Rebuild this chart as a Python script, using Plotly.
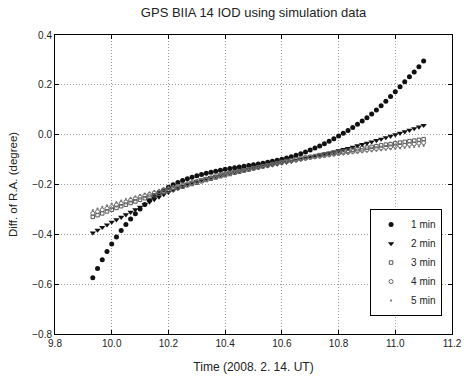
import plotly.graph_objects as go

# time samples: minutes after 09:00 UT (1-minute spacing), converted to hours
minutes = [56, 57, 58, 59, 60, 61, 62, 63, 64, 65, 66, 67, 68, 69, 70, 71, 72, 73, 74, 75,
           76, 77, 78, 79, 80, 81, 82, 83, 84, 85, 86, 87, 88, 89, 90, 91, 92, 93, 94, 95,
           96, 97, 98, 99, 100, 101, 102, 103, 104, 105, 106, 107, 108, 109, 110, 111, 112,
           113, 114, 115, 116, 117, 118, 119, 120, 121, 122, 123, 124, 125, 126]
time_h = [9 + m / 60 for m in minutes]

s1 = [-0.574, -0.537, -0.502, -0.469, -0.439, -0.411, -0.385, -0.361, -0.338, -0.317,
      -0.298, -0.280, -0.263, -0.248, -0.234, -0.222, -0.211, -0.201, -0.192, -0.184,
      -0.177, -0.171, -0.165, -0.160, -0.155, -0.151, -0.147, -0.143, -0.139, -0.136,
      -0.133, -0.130, -0.127, -0.124, -0.121, -0.118, -0.115, -0.111, -0.107, -0.103,
      -0.099, -0.094, -0.089, -0.083, -0.077, -0.070, -0.062, -0.054, -0.045, -0.036,
      -0.026, -0.016, -0.005, 0.006, 0.017, 0.029, 0.042, 0.055, 0.068, 0.083,
      0.099, 0.116, 0.134, 0.153, 0.172, 0.192, 0.212, 0.232, 0.252, 0.273, 0.296]

s2 = [-0.394, -0.383, -0.372, -0.362, -0.351, -0.341, -0.331, -0.321, -0.311, -0.301,
      -0.291, -0.280, -0.270, -0.260, -0.250, -0.2405, -0.2315, -0.223, -0.215, -0.2075,
      -0.2005, -0.1939, -0.1877, -0.1819, -0.1764, -0.1712, -0.1663, -0.1617, -0.1573, -0.1531,
      -0.1491, -0.1453, -0.1416, -0.1380, -0.1345, -0.1311, -0.1277, -0.1243, -0.1209, -0.1175,
      -0.1141, -0.1105, -0.1068, -0.1030, -0.0991, -0.0951, -0.0910, -0.0868, -0.0825, -0.0781,
      -0.0736, -0.0690, -0.0643, -0.0595, -0.0546, -0.0496, -0.0445, -0.0393, -0.0340, -0.0286,
      -0.0231, -0.0175, -0.0118, -0.0060, -0.0001, 0.0059, 0.0120, 0.0182, 0.0245, 0.0309, 0.0374]

s3 = [-0.330, -0.323, -0.316, -0.308, -0.301, -0.294, -0.287, -0.281, -0.274, -0.268,
      -0.261, -0.255, -0.249, -0.243, -0.237, -0.231, -0.225, -0.220, -0.214, -0.209,
      -0.203, -0.198, -0.193, -0.187, -0.182, -0.177, -0.172, -0.167, -0.163, -0.158,
      -0.153, -0.149, -0.144, -0.140, -0.135, -0.131, -0.127, -0.123, -0.118, -0.114,
      -0.110, -0.106, -0.103, -0.099, -0.096, -0.092, -0.089, -0.086, -0.082, -0.079,
      -0.076, -0.073, -0.070, -0.067, -0.064, -0.061, -0.058, -0.055, -0.052, -0.049,
      -0.046, -0.043, -0.040, -0.038, -0.035, -0.032, -0.029, -0.026, -0.024, -0.021, -0.018]

s4 = [-0.316, -0.309, -0.302, -0.296, -0.289, -0.282, -0.276, -0.270, -0.263, -0.257,
      -0.251, -0.245, -0.240, -0.234, -0.229, -0.223, -0.218, -0.213, -0.207, -0.202,
      -0.197, -0.192, -0.187, -0.183, -0.178, -0.173, -0.169, -0.164, -0.160, -0.155,
      -0.151, -0.147, -0.143, -0.139, -0.135, -0.131, -0.127, -0.123, -0.119, -0.115,
      -0.111, -0.108, -0.105, -0.101, -0.098, -0.095, -0.092, -0.089, -0.087, -0.084,
      -0.081, -0.078, -0.076, -0.073, -0.071, -0.068, -0.066, -0.063, -0.061, -0.058,
      -0.056, -0.054, -0.051, -0.049, -0.046, -0.044, -0.042, -0.039, -0.037, -0.034, -0.032]

s5 = [-0.303, -0.297, -0.290, -0.284, -0.277, -0.271, -0.265, -0.259, -0.254, -0.248,
      -0.242, -0.237, -0.232, -0.226, -0.221, -0.216, -0.211, -0.206, -0.202, -0.197,
      -0.192, -0.188, -0.183, -0.179, -0.174, -0.170, -0.166, -0.162, -0.158, -0.154,
      -0.150, -0.146, -0.142, -0.139, -0.135, -0.131, -0.127, -0.123, -0.120, -0.116,
      -0.112, -0.109, -0.106, -0.104, -0.101, -0.098, -0.096, -0.093, -0.091, -0.088,
      -0.086, -0.084, -0.081, -0.079, -0.077, -0.075, -0.073, -0.071, -0.069, -0.067,
      -0.065, -0.063, -0.061, -0.059, -0.057, -0.055, -0.053, -0.051, -0.049, -0.047, -0.045]

names = ["1 min", "2 min", "3 min", "4 min", "5 min"]
x_ticks = [9.8, 10.0, 10.2, 10.4, 10.6, 10.8, 11.0, 11.2]
y_ticks = [-0.8, -0.6, -0.4, -0.2, 0.0, 0.2, 0.4]

styles = [
    dict(symbol="circle", size=5, color="#111111"),
    dict(symbol="triangle-down", size=5.5, color="#111111"),
    dict(symbol="square-open", size=3.5, color="#555555", line=dict(width=1, color="#555555")),
    dict(symbol="circle-open", size=4, color="#666666", line=dict(width=1, color="#666666")),
    dict(symbol="circle", size=2.2, color="#777777"),
]

fig = go.Figure()
for name, ys, st in zip(names, [s1, s2, s3, s4, s5], styles):
    fig.add_trace(go.Scatter(x=time_h, y=ys, mode="markers", name=name, marker=st))

font_family = "Arial, Liberation Sans, sans-serif"
axis_common = dict(
    showline=True, linecolor="black", linewidth=1, mirror="ticks",
    ticks="inside", ticklen=4, tickcolor="black",
    showgrid=True, gridcolor="#9a9a9a", griddash="1px,2px", gridwidth=1,
    zeroline=False, tickformat=".1f",
    tickfont=dict(family=font_family, size=10, color="#222"),
)

fig.update_layout(
    width=474, height=383,
    margin=dict(l=53, r=15, t=35, b=47),
    paper_bgcolor="white", plot_bgcolor="white",
    font=dict(family=font_family, color="#222"),
    title=dict(text="GPS BIIA 14 IOD using simulation data", x=0.535, xanchor="center",
               y=0.967, yanchor="middle", font=dict(size=13, family=font_family, color="#222")),
    xaxis=dict(range=[9.8, 11.2], tickvals=x_ticks,
               title=dict(text="Time (2008. 2. 14. UT)", standoff=14,
                          font=dict(size=12, family=font_family, color="#222")),
               **axis_common),
    yaxis=dict(range=[-0.8, 0.4], tickvals=y_ticks,
               title=dict(text="Diff. of R.A. (degree)", standoff=12,
                          font=dict(size=11.5, family=font_family, color="#222")),
               **axis_common),
    legend=dict(x=0.975, xanchor="right", y=0.06, yanchor="bottom",
                bgcolor="white", bordercolor="black", borderwidth=1,
                font=dict(size=10, family=font_family, color="#222"),
                itemwidth=30, tracegroupgap=0),
    showlegend=True,
)

fig.write_html("out.html")
